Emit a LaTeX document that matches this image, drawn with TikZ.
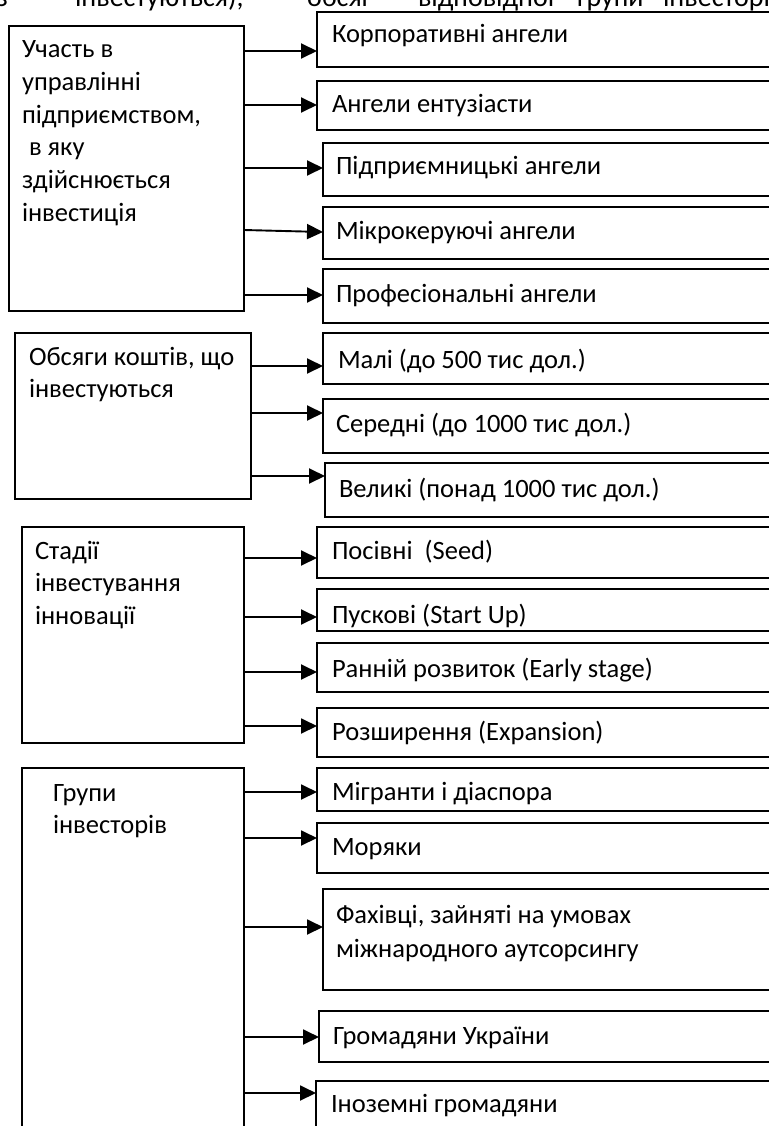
\documentclass[tikz,border=0pt]{standalone}
\usepackage{fontspec}
\setmainfont{Carlito}
\usetikzlibrary{arrows.meta}
\newcommand\firstln{\rule{0pt}{22pt}}
\begin{document}
\begin{tikzpicture}[x=1pt,y=-1pt,
  box/.style={draw, line width=1.9pt, anchor=north west, inner sep=0pt, outer sep=0pt},
  txt/.style={anchor=north west, inner sep=0pt, outer sep=0pt, align=left, font=\fontsize{26.5}{32.6}\selectfont},
  toptxt/.style={txt, font=\fontsize{28}{34}\selectfont},
  arr/.style={line width=1.9pt, -{Triangle[length=16pt,width=15pt]}}]
\useasboundingbox (0,0) rectangle (768,1126);
\fill[white] (0,0) rectangle (768,1126);

% top text (cut at the upper edge, as in the source)
\node[toptxt] (top1) at (-4,-15) {\firstln з};
\node[toptxt] (top2) at (75,-15) {\firstln інвестуються),};
\node[toptxt] (top3) at (307,-15) {\firstln обсяг};
\node[toptxt] (top4) at (418,-15) {\firstln відповідної};
\node[toptxt] (top5) at (577,-15) {\firstln групи};
\node[toptxt] (top6) at (663,-15) {\firstln інвесторів};

% left boxes
\node[box, minimum width=235pt, minimum height=285pt] (l1) at (9,26) {};
\node[box, minimum width=236pt, minimum height=166pt] (l2) at (15,333) {};
\node[box, minimum width=222pt, minimum height=216pt] (l3) at (22,527) {};
\node[box, minimum width=222pt, minimum height=380pt] (l4) at (22,768) {};

\node[txt] (lt1) at (22,36) {\firstln Участь в\\управлінні\\підприємством,\\\hspace*{7pt}в яку\\здійснюється\\інвестиція};
\node[txt] (lt2) at (29,343) {\firstln Обсяги коштів, що\\інвестуються};
\node[txt] (lt3) at (35,537) {\firstln Стадії\\інвестування\\інновації};
\node[txt] (lt4) at (53,779) {\firstln Групи\\інвесторів};

% right boxes
\node[box, minimum width=483pt, minimum height=55pt] (r1) at (317,12) {};
\node[box, minimum width=483pt, minimum height=49pt] (r2) at (317,81) {};
\node[box, minimum width=477pt, minimum height=53pt] (r3) at (323,143) {};
\node[box, minimum width=477pt, minimum height=52pt] (r4) at (323,207) {};
\node[box, minimum width=477pt, minimum height=54pt] (r5) at (323,269) {};
\node[box, minimum width=477pt, minimum height=51pt] (r6) at (323,333) {};
\node[box, minimum width=477pt, minimum height=54pt] (r7) at (323,399) {};
\node[box, minimum width=475pt, minimum height=54pt] (r8) at (325,463) {};
\node[box, minimum width=483pt, minimum height=51pt] (r9) at (317,527) {};
\node[box, minimum width=483pt, minimum height=42pt] (r10) at (317,589) {};
\node[box, minimum width=483pt, minimum height=49pt] (r11) at (317,643) {};
\node[box, minimum width=483pt, minimum height=49pt] (r12) at (317,708) {};
\node[box, minimum width=483pt, minimum height=43pt] (r13) at (317,768) {};
\node[box, minimum width=483pt, minimum height=50pt] (r14) at (317,823) {};
\node[box, minimum width=477pt, minimum height=101pt] (r15) at (323,889) {};
\node[box, minimum width=481pt, minimum height=51pt] (r16) at (319,1011) {};
\node[box, minimum width=484pt, minimum height=70pt] (r17) at (316,1081) {};

% right texts
\node[txt] (t1) at (332,21) {\firstln Корпоративні ангели};
\node[txt] (t2) at (332,91) {\firstln Ангели ентузіасти};
\node[txt] (t3) at (336,153) {\firstln Підприємницькі ангели};
\node[txt] (t4) at (336,217) {\firstln Мікрокеруючі ангели};
\node[txt] (t5) at (336,280) {\firstln Професіональні ангели};
\node[txt] (t6) at (338,346) {\firstln Малі (до 500 тис дол.)};
\node[txt] (t7) at (336,410) {\firstln Середні (до 1000 тис дол.)};
\node[txt] (t8) at (339,475) {\firstln Великі (понад 1000 тис дол.)};
\node[txt] (t9) at (332,537) {\firstln Посівні\ \ (Seed)};
\node[txt] (t10) at (332,601) {\firstln Пускові (Start Up)};
\node[txt] (t11) at (332,655) {\firstln Ранній розвиток (Early stage)};
\node[txt] (t12) at (332,718) {\firstln Розширення (Expansion)};
\node[txt] (t13) at (332,778) {\firstln Мігранти і діаспора};
\node[txt] (t14) at (332,833) {\firstln Моряки};
\node[txt, font=\fontsize{26.5}{34}\selectfont] (t15) at (336,901) {\firstln Фахівці, зайняті на умовах\\міжнародного аутсорсингу};
\node[txt] (t16) at (333,1022) {\firstln Громадяни України};
\node[txt] (t17) at (331,1090) {\firstln Іноземні громадяни};

% arrows
\draw[arr] (l1.east |- 0,51) -- (r1.west |- 0,51);
\draw[arr] (l1.east |- 0,105) -- (r2.west |- 0,105);
\draw[arr] (l1.east |- 0,168) -- (r3.west |- 0,168);
\draw[arr] (l1.east |- 0,230) -- (r4.west |- 0,232);
\draw[arr] (l1.east |- 0,295) -- (r5.west |- 0,295);
\draw[arr] (l2.east |- 0,366) -- (r6.west |- 0,366);
\draw[arr] (l2.east |- 0,413) -- (r7.west |- 0,413);
\draw[arr] (l2.east |- 0,476) -- (r8.west |- 0,476);
\draw[arr] (l3.east |- 0,558) -- (r9.west |- 0,558);
\draw[arr] (l3.east |- 0,617) -- (r10.west |- 0,617);
\draw[arr] (l3.east |- 0,672) -- (r11.west |- 0,672);
\draw[arr] (l3.east |- 0,726) -- (r12.west |- 0,726);
\draw[arr] (l4.east |- 0,792) -- (r13.west |- 0,792);
\draw[arr] (l4.east |- 0,838) -- (r14.west |- 0,838);
\draw[arr] (l4.east |- 0,927) -- (r15.west |- 0,927);
\draw[arr] (l4.east |- 0,1037) -- (r16.west |- 0,1037);
\draw[arr] (l4.east |- 0,1093) -- (r17.west |- 0,1093);
\end{tikzpicture}
\end{document}
